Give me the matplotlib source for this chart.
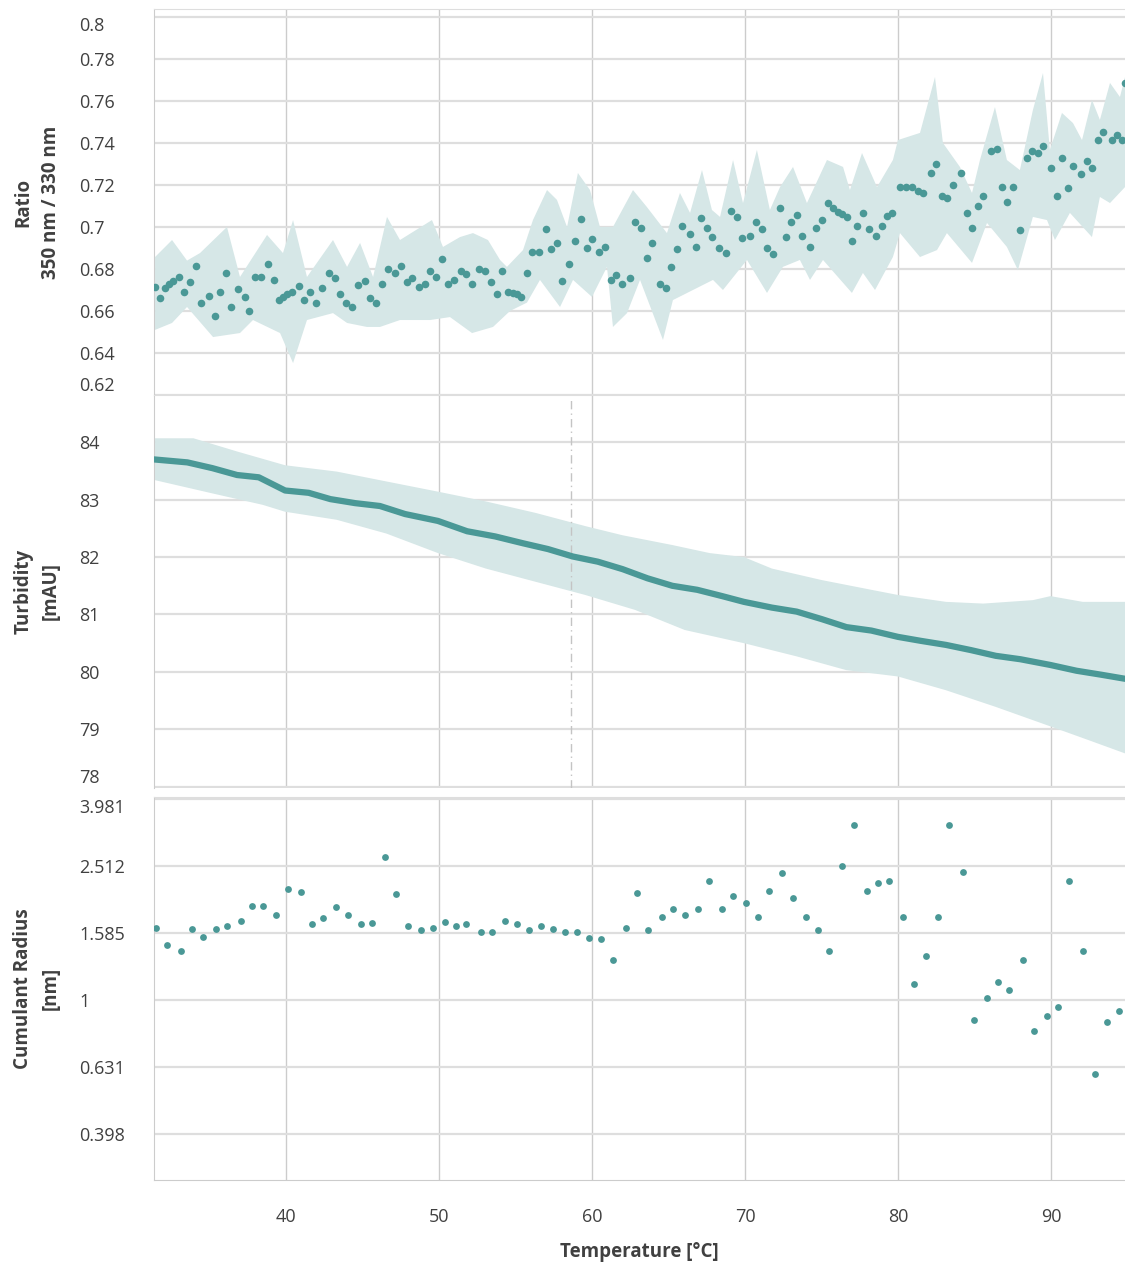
import numpy as np
import matplotlib
matplotlib.use("Agg")
import matplotlib.pyplot as plt

plt.rcParams['font.family'] = ['Open Sans', 'DejaVu Sans']

# ---- top panel: ratio 350/330
ratio_T = [31.44, 31.76, 32.09, 32.37, 32.63, 33.00, 33.35, 33.73, 34.10, 34.44,
           34.97, 35.36, 35.69, 36.06, 36.41, 36.88, 37.32, 37.60, 37.97, 38.37,
           38.84, 39.24, 39.56, 39.82, 40.08, 40.37, 40.87, 41.20, 41.57, 41.94,
           42.33, 42.83, 43.20, 43.53, 43.92, 44.29, 44.73, 45.16, 45.49, 45.88,
           46.25, 46.69, 47.12, 47.52, 47.89, 48.22, 48.69, 49.08, 49.41, 49.80,
           50.18, 50.61, 51.00, 51.42, 51.75, 52.14, 52.64, 53.01, 53.38, 53.77,
           54.10, 54.53, 54.86, 55.08, 55.36, 55.73, 56.06, 56.56, 56.97, 57.30,
           57.69, 58.06, 58.52, 58.89, 59.28, 59.65, 60.02, 60.48, 60.85, 61.24,
           61.60, 61.97, 62.48, 62.81, 63.18, 63.57, 63.94, 64.44, 64.82, 65.16,
           65.54, 65.86, 66.41, 66.78, 67.13, 67.50, 67.82, 68.32, 68.76, 69.08,
           69.46, 69.78, 70.33, 70.70, 71.09, 71.46, 71.81, 72.29, 72.66, 73.01,
           73.38, 73.75, 74.25, 74.62, 75.01, 75.40, 75.73, 76.10, 76.36, 76.65,
           76.98, 77.34, 77.69, 78.13, 78.54, 78.93, 79.30, 79.63, 80.13, 80.50,
           80.89, 81.32, 81.65, 82.13, 82.48, 82.85, 83.22, 83.61, 84.10, 84.49,
           84.86, 85.21, 85.58, 86.08, 86.45, 86.78, 87.15, 87.54, 87.98, 88.41,
           88.74, 89.13, 89.50, 89.98, 90.37, 90.74, 91.09, 91.45, 91.96, 92.33,
           92.70, 93.05, 93.42, 93.96, 94.33, 94.66, 94.84]
ratio = [0.6713, 0.6663, 0.6708, 0.6729, 0.6743, 0.6763, 0.6689, 0.6737, 0.6814, 0.6637,
         0.6673, 0.6578, 0.6689, 0.6780, 0.6620, 0.6703, 0.6665, 0.6600, 0.6763, 0.6763,
         0.6824, 0.6748, 0.6652, 0.6668, 0.6681, 0.6692, 0.6719, 0.6652, 0.6692, 0.6637,
         0.6708, 0.6780, 0.6756, 0.6681, 0.6637, 0.6621, 0.6724, 0.6744, 0.6663, 0.6637,
         0.6727, 0.6798, 0.6782, 0.6816, 0.6740, 0.6756, 0.6716, 0.6729, 0.6792, 0.6763,
         0.6846, 0.6729, 0.6748, 0.6792, 0.6776, 0.6729, 0.6800, 0.6790, 0.6737, 0.6681,
         0.6790, 0.6689, 0.6687, 0.6681, 0.6668, 0.6780, 0.6880, 0.6880, 0.6989, 0.6895,
         0.6922, 0.6744, 0.6824, 0.6935, 0.7038, 0.6898, 0.6941, 0.6880, 0.6906, 0.6748,
         0.6771, 0.6727, 0.6756, 0.7025, 0.6994, 0.6854, 0.6922, 0.6729, 0.6708, 0.6808,
         0.6895, 0.7005, 0.6967, 0.6906, 0.7041, 0.6997, 0.6951, 0.6898, 0.6878, 0.7076,
         0.7046, 0.6949, 0.6957, 0.7022, 0.6989, 0.6898, 0.6871, 0.7092, 0.6951, 0.7022,
         0.7057, 0.6957, 0.6906, 0.6994, 0.7033, 0.7116, 0.7092, 0.7073, 0.7060, 0.7046,
         0.6933, 0.7005, 0.7068, 0.6990, 0.6957, 0.7005, 0.7052, 0.7065, 0.7192, 0.7192,
         0.7192, 0.7171, 0.7160, 0.7256, 0.7298, 0.7148, 0.7140, 0.7200, 0.7256, 0.7065,
         0.6994, 0.7101, 0.7149, 0.7363, 0.7369, 0.7192, 0.7118, 0.7192, 0.6986, 0.7329,
         0.7363, 0.7351, 0.7387, 0.7283, 0.7148, 0.7327, 0.7184, 0.7290, 0.7252, 0.7316,
         0.7280, 0.7414, 0.7450, 0.7414, 0.7438, 0.7414, 0.7686]

ratio_hi_T = [31.44, 32.55, 33.53, 34.38, 36.14, 36.99, 38.76, 39.80, 40.46, 41.37,
              43.07, 43.99, 44.84, 45.69, 46.60, 47.45, 49.54, 50.26, 51.37, 52.22,
              53.20, 53.99, 54.44, 55.49, 56.14, 57.06, 57.71, 58.37, 59.08, 59.87,
              60.52, 61.37, 62.68, 63.59, 64.90, 65.75, 66.41, 67.19, 67.84, 68.37,
              69.22, 69.87, 70.78, 71.63, 72.29, 73.14, 74.05, 75.36, 76.41, 76.86,
              77.65, 78.63, 79.67, 80.00, 81.44, 82.42, 82.94, 84.05, 84.84, 85.36,
              86.34, 87.12, 87.97, 88.82, 89.48, 89.93, 90.72, 91.44, 92.03, 92.68,
              93.20, 93.86, 94.51, 94.84]
ratio_hi = [0.6857, 0.6938, 0.6840, 0.6876, 0.7000, 0.6762, 0.6962, 0.6876, 0.7033, 0.6762,
            0.6938, 0.6810, 0.6924, 0.6762, 0.7048, 0.6938, 0.7033, 0.6905, 0.6952, 0.6971,
            0.6938, 0.6843, 0.6810, 0.6890, 0.7033, 0.7176, 0.7129, 0.7000, 0.7257, 0.7176,
            0.7000, 0.7000, 0.7176, 0.7095, 0.6971, 0.7162, 0.7067, 0.7271, 0.7081, 0.7048,
            0.7319, 0.7114, 0.7367, 0.7081, 0.7190, 0.7286, 0.7114, 0.7319, 0.7286, 0.7176,
            0.7352, 0.7190, 0.7319, 0.7414, 0.7448, 0.7714, 0.7400, 0.7286, 0.7162, 0.7319,
            0.7571, 0.7319, 0.7271, 0.7557, 0.7733, 0.7367, 0.7543, 0.7495, 0.7414, 0.7605,
            0.7510, 0.7686, 0.7619, 0.7714]
ratio_lo_T = [31.44, 32.55, 33.53, 35.23, 36.99, 37.84, 39.61, 40.46, 41.37, 43.07,
              43.99, 45.29, 46.14, 47.45, 49.41, 50.72, 52.16, 53.53, 54.64, 55.75,
              56.60, 57.91, 58.76, 60.00, 60.98, 61.37, 62.29, 63.14, 64.64, 65.29,
              66.60, 67.91, 68.56, 70.13, 71.44, 72.48, 73.59, 74.25, 75.10, 76.99,
              77.71, 78.50, 79.67, 80.13, 81.44, 82.55, 83.20, 84.84, 85.82, 87.12,
              87.84, 88.82, 89.74, 90.26, 91.24, 92.68, 93.20, 93.86, 94.84]
ratio_lo = [0.6510, 0.6543, 0.6619, 0.6476, 0.6495, 0.6557, 0.6495, 0.6352, 0.6557, 0.6590,
            0.6543, 0.6524, 0.6524, 0.6557, 0.6557, 0.6571, 0.6495, 0.6524, 0.6600, 0.6640,
            0.6748, 0.6619, 0.6748, 0.6667, 0.6810, 0.6524, 0.6590, 0.6748, 0.6462, 0.6652,
            0.6700, 0.6748, 0.6700, 0.6843, 0.6686, 0.6810, 0.6843, 0.6748, 0.6843, 0.6686,
            0.6781, 0.6700, 0.6857, 0.6971, 0.6857, 0.6890, 0.6971, 0.6829, 0.7019, 0.6905,
            0.6795, 0.7048, 0.7033, 0.6938, 0.7067, 0.6952, 0.7143, 0.7114, 0.7190]

# ---- middle panel: turbidity
turb_T = [31.44, 33.55, 35.18, 36.80, 38.22, 39.94, 41.48, 42.90, 44.52, 46.14,
          47.78, 49.93, 51.84, 53.67, 55.50, 57.12, 58.75, 60.38, 62.00, 63.63,
          65.25, 66.88, 68.51, 69.93, 71.76, 73.38, 75.01, 76.63, 78.26, 80.00,
          81.51, 83.14, 84.76, 86.39, 88.01, 89.97, 91.67, 93.30, 94.84]
turb = [83.70, 83.65, 83.55, 83.43, 83.39, 83.16, 83.12, 83.01, 82.94, 82.89,
        82.75, 82.63, 82.45, 82.36, 82.24, 82.14, 82.01, 81.92, 81.79, 81.63,
        81.50, 81.43, 81.32, 81.22, 81.12, 81.05, 80.92, 80.78, 80.72, 80.61,
        80.54, 80.47, 80.38, 80.28, 80.22, 80.12, 80.02, 79.95, 79.88]
turb_hi_T = [31.44, 33.95, 36.80, 39.94, 43.31, 46.14, 49.93, 53.06, 56.31, 59.56,
             62.00, 65.25, 67.69, 69.93, 71.76, 75.01, 78.26, 80.00, 83.14, 85.57,
             88.82, 89.97, 92.08, 94.84]
turb_hi = [84.07, 84.07, 83.84, 83.60, 83.49, 83.34, 83.14, 82.97, 82.77, 82.54,
           82.38, 82.21, 82.07, 82.00, 81.80, 81.60, 81.43, 81.34, 81.22, 81.19,
           81.25, 81.32, 81.22, 81.22]
turb_lo_T = [31.44, 35.18, 38.48, 39.94, 43.31, 46.56, 49.93, 53.06, 56.31, 59.56,
             62.81, 66.06, 69.93, 73.38, 76.63, 80.00, 83.14, 86.39, 89.97, 92.47,
             94.84]
turb_lo = [83.34, 83.11, 82.91, 82.79, 82.65, 82.41, 82.07, 81.80, 81.57, 81.34,
           81.08, 80.73, 80.50, 80.27, 80.03, 79.92, 79.68, 79.39, 79.05, 78.81,
           78.58]
tm_line = 58.63

# ---- bottom panel: cumulant radius
rad_T = [31.53, 32.23, 33.14, 33.86, 34.57, 35.43, 36.15, 37.07, 37.78, 38.51,
         39.35, 40.10, 40.99, 41.73, 42.43, 43.29, 44.02, 44.93, 45.65, 46.47,
         47.22, 47.97, 48.85, 49.60, 50.37, 51.14, 51.77, 52.75, 53.47, 54.34,
         55.08, 55.86, 56.67, 57.42, 58.26, 59.01, 59.79, 60.61, 61.37, 62.22,
         62.97, 63.68, 64.58, 65.28, 66.10, 66.91, 67.63, 68.51, 69.24, 70.09,
         70.84, 71.57, 72.44, 73.17, 74.02, 74.77, 75.50, 76.37, 77.10, 77.95,
         78.68, 79.41, 80.31, 81.04, 81.86, 82.61, 83.35, 84.24, 84.99, 85.80,
         86.55, 87.28, 88.18, 88.90, 89.71, 90.48, 91.19, 92.08, 92.86, 93.66,
         94.42]
radius = [1.644, 1.459, 1.401, 1.626, 1.545, 1.626, 1.667, 1.725, 1.912, 1.912,
          1.794, 2.149, 2.097, 1.683, 1.753, 1.895, 1.794, 1.683, 1.701, 2.673,
          2.068, 1.663, 1.618, 1.640, 1.706, 1.667, 1.683, 1.592, 1.592, 1.725,
          1.686, 1.618, 1.663, 1.626, 1.592, 1.592, 1.535, 1.518, 1.316, 1.637,
          2.091, 1.618, 1.766, 1.865, 1.794, 1.865, 2.266, 1.865, 2.043, 1.944,
          1.766, 2.120, 2.388, 2.020, 1.766, 1.618, 1.404, 2.507, 3.331, 2.120,
          2.231, 2.266, 1.766, 1.114, 1.353, 1.766, 3.331, 2.415, 0.872, 1.016,
          1.129, 1.071, 1.316, 0.808, 0.896, 0.955, 2.266, 1.404, 0.600, 0.861,
          0.929]

ratio_ticks = [0.62, 0.64, 0.66, 0.68, 0.70, 0.72, 0.74, 0.76, 0.78, 0.80]
turb_ticks = [78, 79, 80, 81, 82, 83, 84]
rad_ticks = [10 ** e for e in (-0.4, -0.2, 0.0, 0.2, 0.4, 0.6)]
x_ticks = [40, 50, 60, 70, 80, 90]

dot = '#4a9896'
band = '#d6e7e7'
txt = '#404040'

fig = plt.figure(figsize=(11.25, 12.67), dpi=100)
left, width = 154 / 1125, 971 / 1125
H = 1267
ax1 = fig.add_axes([left, 1 - 395 / H, width, 386 / H])
ax2 = fig.add_axes([left, 1 - 788 / H, width, 393 / H])
ax3 = fig.add_axes([left, 1 - 1180 / H, width, 383 / H])

ax1.fill(np.concatenate([ratio_hi_T, ratio_lo_T[::-1]]),
         np.concatenate([ratio_hi, ratio_lo[::-1]]), color=band, lw=0, zorder=1)
ax1.scatter(ratio_T, ratio, s=30, color=dot, lw=0, zorder=3)
ax1.set_ylim(0.62, 0.8038)
ax1.set_yticks(ratio_ticks)
ax1.set_yticklabels(['%g' % v for v in ratio_ticks])

ax2.fill(np.concatenate([turb_hi_T, turb_lo_T[::-1]]),
         np.concatenate([turb_hi, turb_lo[::-1]]), color=band, lw=0, zorder=1)
ax2.plot(turb_T, turb, color=dot, lw=4.5, zorder=3)
ax2.axvline(tm_line, ymax=0.987, color='#c4c4c4', lw=1, ls=(0, (6, 3, 1, 3)), zorder=2)
ax2.set_ylim(77.977, 84.824)
ax2.set_yticks(turb_ticks)
ax2.set_yticklabels([str(v) for v in turb_ticks])

ax3.scatter(rad_T, radius, s=24, color=dot, lw=0, zorder=3)
ax3.set_yscale('log')
ax3.set_ylim(0.2904, 4.04)
ax3.set_yticks(rad_ticks)
ax3.set_yticklabels([('%.3f' % v).rstrip('0').rstrip('.') for v in rad_ticks])
ax3.minorticks_off()

for ax in (ax1, ax2, ax3):
    ax.set_xlim(31.37, 94.84)
    ax.set_xticks(x_ticks)
    ax.grid(axis='y', color='#dedede', lw=1.6, zorder=0)
    ax.grid(axis='x', color='#cccccc', lw=1.0, zorder=0)
    ax.set_axisbelow(True)
    ax.tick_params(axis='both', length=0, labelsize=13, labelcolor=txt)
    ax.tick_params(axis='y', pad=54)
    for lab in ax.get_yticklabels():
        lab.set_horizontalalignment('left')
    for s in ('right',):
        ax.spines[s].set_visible(False)
    ax.spines['left'].set_color('#cccccc')
    ax.spines['top'].set_color('#dedede')
    ax.spines['bottom'].set_color('#cccccc')
    ax.spines['bottom'].set_visible(ax is ax3)

for ax in (ax1, ax2):
    ax.tick_params(axis='x', labelbottom=False)

# edge labels stay inside their panel
labs = ax1.get_yticklabels()
labs[0].set_verticalalignment('bottom')
labs[-1].set_verticalalignment('top')
ax2.get_yticklabels()[0].set_verticalalignment('bottom')
ax3.get_yticklabels()[-1].set_verticalalignment('top')

ax3.tick_params(axis='x', pad=20)
ax3.set_xlabel('Temperature [°C]', fontsize=13.5, fontweight='bold', color=txt, labelpad=12)

lx = 37 / 1125
for ax, label in ((ax1, 'Ratio\n350 nm / 330 nm'),
                  (ax2, 'Turbidity\n[mAU]'),
                  (ax3, 'Cumulant Radius\n[nm]')):
    b = ax.get_position()
    fig.text(lx, b.y0 + b.height / 2, label, rotation=90, ha='center', va='center',
             multialignment='center', fontsize=13.5, fontweight='bold', color=txt,
             linespacing=1.5)

fig.savefig('out.png', dpi=100)
